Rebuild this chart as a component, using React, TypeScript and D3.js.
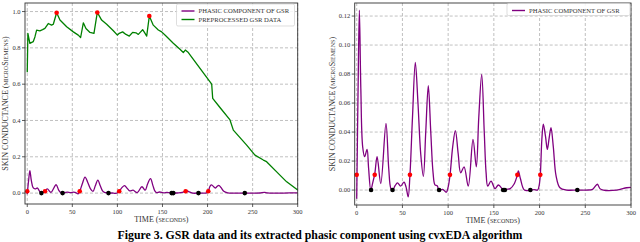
import * as d3 from "d3";

// preprocessed GSR signal (left panel)
const gsrT = [0, 0.7, 2.9, 6.6, 8.5, 10.4, 14, 17, 19.6, 23.3, 27, 28.9, 32.6, 36.3, 43.7, 51.1, 56.6, 59.2, 62.2, 65.1, 69.6, 74, 77.7, 82.5, 88.1, 95.5, 100, 102, 105.8, 109.5, 113.2, 116.9, 120.6, 123.2, 125.8, 128, 130, 132.5, 135.4, 139.8, 145.4, 149.1, 153.9, 162, 169.4, 173.1, 175.3, 178.7, 204.6, 205.7, 214, 224.9, 228.6, 243.4, 252.6, 261.9, 265.5, 276.7, 287.8, 300];
const gsrV = [0.665, 0.88, 0.825, 0.834, 0.86, 0.898, 0.894, 0.9, 0.907, 0.934, 0.925, 0.93, 0.993, 0.953, 0.916, 0.888, 0.87, 0.857, 0.938, 0.907, 0.885, 0.88, 0.995, 0.953, 0.93, 0.894, 0.87, 0.88, 0.888, 0.874, 0.865, 0.885, 0.883, 0.874, 0.888, 0.9, 0.885, 0.865, 0.975, 0.925, 0.898, 0.888, 0.865, 0.825, 0.792, 0.774, 0.788, 0.774, 0.6, 0.522, 0.47, 0.403, 0.347, 0.264, 0.209, 0.182, 0.173, 0.117, 0.062, 0.017];
const gsrPeakT = [32.6, 77.7, 135.4];
const gsrPeakV = [0.993, 0.995, 0.975];

// phasic component (both panels)
const phT = [0, 1.5, 2.9, 4.5, 6.5, 8.7, 11.3, 13, 15.4, 17.5, 19.7, 22.3, 26.3, 32, 35, 37.4, 39.2, 42, 44.6, 48, 51.7, 54, 56.3, 58.2, 61, 64.1, 67, 70, 72.9, 75.5, 78.3, 81, 83.5, 85.6, 88, 90.1, 94, 98, 100, 102, 105, 107.9, 111, 113.7, 117.4, 122, 127.2, 130.8, 133.5, 136.7, 139.5, 141.5, 143.3, 146.9, 151.3, 155, 160.8, 164, 167.9, 172, 175.7, 176.8, 179, 183.4, 189.9, 194, 197.9, 199.5, 200.8, 202.5, 204.1, 206.5, 208.5, 210.5, 212.5, 215, 218, 222.3, 229.6, 241.3, 251.5, 258, 263.2, 266, 269.7, 284.3, 295.3, 300];
const phV = [-0.006, 0.07, 0.124, 0.07, 0.03, 0.023, 0.028, 0.015, 0.0, 0.005, 0.011, 0.023, 0.0045, 0.046, 0.015, 0.001, 0, 0.003, 0.005, 0.0027, 0.0055, 0.002, -0.0047, 0.01, 0.05, 0.088, 0.06, 0.025, 0.0094, 0.04, 0.072, 0.04, 0.012, 0.0036, 0.003, 0, 0.0005, -0.0015, 0.002, 0.01, 0.03, 0.041, 0.025, 0.0119, 0.016, 0.0027, 0.035, 0.016, 0.05, 0.0797, 0.04, 0.012, 0.0027, 0.0062, 0.001, 0.0035, 0, 0.0005, 0.001, 0.004, 0.0104, 0.0133, 0.008, 0, 0, 0.0003, 0, 0.003, 0.0104, 0.035, 0.0454, 0.037, 0.028, 0.036, 0.043, 0.03, 0.01, 0.0016, 0, 0, 0, 0.0005, 0.004, 0.001, 0, 0, 0.0016, 0.0018];
const onsetT = [0, 19.7, 58.2, 102, 175.7, 200.8];
const onsetV = [0.0105, 0.0105, 0.0105, 0.0105, 0.0105, 0.0105];
const troughT = [15.7, 39.2, 90.1, 160.2, 162, 189.9, 241.3];
const troughV = [0, 0, 0, 0, 0, 0, 0];

const xTicks = [0, 50, 100, 150, 200, 250, 300];
const leftYTicks = [0, 0.2, 0.4, 0.6, 0.8, 1.0];
const rightYTicks = [0, 0.02, 0.04, 0.06, 0.08, 0.1, 0.12];

const PURPLE = "#800080";
const GREEN = "#008000";
const SERIF = "'Liberation Serif', 'DejaVu Serif', serif";

type Pt = [number, number];
const zip = (a: number[], b: number[]): Pt[] => a.map((v, i) => [v, b[i]]);

interface PanelProps {
  xDomain: [number, number];
  xRange: [number, number];
  yDomain: [number, number];
  yRange: [number, number];
  yTicks: number[];
  yFmt: (d: number) => string;
  labelX: number;
  showGsr: boolean;
  legend: { x: number; y: number; w: number; h: number };
}

function Panel({ xDomain, xRange, yDomain, yRange, yTicks, yFmt, labelX, showGsr, legend }: PanelProps) {
  const x = d3.scaleLinear().domain(xDomain).range(xRange);
  const y = d3.scaleLinear().domain(yDomain).range(yRange);
  const [x0, x1] = xRange;
  const [y0, y1] = yRange; // y0 bottom, y1 top

  const straight = d3.line<Pt>().x((d) => x(d[0])).y((d) => y(d[1]));
  const smooth = d3
    .line<Pt>()
    .x((d) => x(d[0]))
    .y((d) => y(d[1]))
    .curve(d3.curveCatmullRom.alpha(0.5));

  const midY = (y0 + y1) / 2;

  return (
    <g>
      {/* grid */}
      {xTicks.map((t) => (
        <line key={"gx" + t} x1={x(t)} x2={x(t)} y1={y1} y2={y0} stroke="#b0b0b0" strokeWidth={0.8} strokeDasharray="3,2" />
      ))}
      {yTicks.map((t) => (
        <line key={"gy" + t} x1={x0} x2={x1} y1={y(t)} y2={y(t)} stroke="#b0b0b0" strokeWidth={0.8} strokeDasharray="3,2" />
      ))}

      {showGsr && (
        <path d={straight(zip(gsrT, gsrV)) ?? ""} fill="none" stroke={GREEN} strokeWidth={1.3} strokeLinejoin="round" />
      )}
      <path d={smooth(zip(phT, phV)) ?? ""} fill="none" stroke={PURPLE} strokeWidth={1.3} strokeLinejoin="round" />

      {showGsr &&
        gsrPeakT.map((t, i) => <circle key={"gp" + i} cx={x(t)} cy={y(gsrPeakV[i])} r={2.3} fill="#ff0000" />)}
      {onsetT.map((t, i) => (
        <circle key={"on" + i} cx={x(t)} cy={y(onsetV[i])} r={2.3} fill="#ff0000" />
      ))}
      {troughT.map((t, i) => (
        <circle key={"tr" + i} cx={x(t)} cy={y(troughV[i])} r={2.3} fill="#000000" />
      ))}

      {/* spines */}
      <rect x={x0} y={y1} width={x1 - x0} height={y0 - y1} fill="none" stroke="#333" strokeWidth={0.9} />

      {/* x ticks */}
      {xTicks.map((t) => (
        <g key={"xt" + t}>
          <line x1={x(t)} x2={x(t)} y1={y0} y2={y0 + 3} stroke="#333" strokeWidth={0.8} />
          <text x={x(t)} y={y0 + 10} textAnchor="middle" fontSize={6.5} fontFamily={SERIF} fill="#333">
            {t}
          </text>
        </g>
      ))}
      {/* y ticks */}
      {yTicks.map((t) => (
        <g key={"yt" + t}>
          <line x1={x0 - 3} x2={x0} y1={y(t)} y2={y(t)} stroke="#333" strokeWidth={0.8} />
          <text x={x0 - 4.5} y={y(t) + 2.3} textAnchor="end" fontSize={6.5} fontFamily={SERIF} fill="#333">
            {yFmt(t)}
          </text>
        </g>
      ))}

      {/* axis labels */}
      <text x={(x0 + x1) / 2} y={y0 + 18} textAnchor="middle" fontSize={8} fontFamily={SERIF} fill="#333">
        TIME (<tspan fontVariant="small-caps">seconds</tspan>)
      </text>
      <text
        transform={`translate(${labelX},${midY}) rotate(-90)`}
        textAnchor="middle"
        fontSize={8}
        fontFamily={SERIF}
        fill="#333"
      >
        SKIN CONDUCTANCE (<tspan fontVariant="small-caps">microSiemens</tspan>)
      </text>

      {/* legend */}
      <rect x={legend.x} y={legend.y} width={legend.w} height={legend.h} rx={1.5} fill="#fff" fillOpacity={0.85} stroke="#d0d0d0" strokeWidth={0.7} />
      <line x1={legend.x + 5} x2={legend.x + 18} y1={legend.y + 7} y2={legend.y + 7} stroke={PURPLE} strokeWidth={1.4} />
      <text x={legend.x + 22} y={legend.y + 9.3} fontSize={6.6} fontFamily={SERIF} fill="#333">
        PHASIC COMPONENT OF GSR
      </text>
      {showGsr && (
        <>
          <line x1={legend.x + 5} x2={legend.x + 18} y1={legend.y + 15.5} y2={legend.y + 15.5} stroke={GREEN} strokeWidth={1.4} />
          <text x={legend.x + 22} y={legend.y + 17.8} fontSize={6.6} fontFamily={SERIF} fill="#333">
            PREPROCESSED GSR DATA
          </text>
        </>
      )}
    </g>
  );
}

export default function App() {
  return (
    <svg width={640} height={242} style={{ position: "absolute", left: 0, top: 0, background: "#fff" }}>
      <Panel
        xDomain={[-2.5, 300]}
        xRange={[25, 297.7]}
        yDomain={[-0.06, 1.047]}
        yRange={[204, 3]}
        yTicks={leftYTicks}
        yFmt={(d) => d.toFixed(1)}
        labelX={8.2}
        showGsr={true}
        legend={{ x: 176.5, y: 4, w: 118, h: 22 }}
      />
      <Panel
        xDomain={[-2.2, 300]}
        xRange={[354.7, 631]}
        yDomain={[-0.0103, 0.129]}
        yRange={[205, 3]}
        yTicks={rightYTicks}
        yFmt={(d) => d.toFixed(2)}
        labelX={334.5}
        showGsr={false}
        legend={{ x: 507, y: 3.5, w: 123, h: 12 }}
      />
      <text x={320} y={239} textAnchor="middle" fontSize={11.8} fontWeight="bold" fontFamily={SERIF} fill="#000">
        Figure 3. GSR data and its extracted phasic component using cvxEDA algorithm
      </text>
    </svg>
  );
}
